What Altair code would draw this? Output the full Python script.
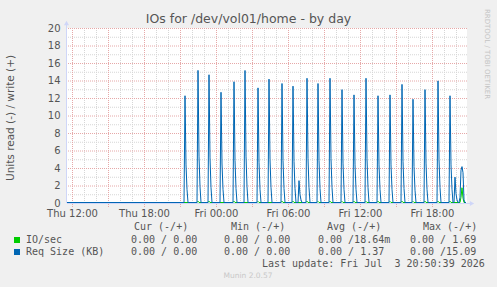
import altair as alt
import pandas as pd

# ---------------- data ----------------
START = "2026-07-02T11:35:00"

# Req Size (KB) write spikes: time of peak, peak, and the two following 5-min samples
spike_times = [
    "2026-07-02T21:25", "2026-07-02T22:30", "2026-07-02T23:25", "2026-07-03T00:25",
    "2026-07-03T01:30", "2026-07-03T02:25", "2026-07-03T03:30", "2026-07-03T04:25",
    "2026-07-03T05:30", "2026-07-03T06:25", "2026-07-03T06:55", "2026-07-03T07:35",
    "2026-07-03T08:30", "2026-07-03T09:30", "2026-07-03T10:30", "2026-07-03T11:30",
    "2026-07-03T12:30", "2026-07-03T13:30", "2026-07-03T14:30", "2026-07-03T15:30",
    "2026-07-03T16:25", "2026-07-03T17:25", "2026-07-03T18:30", "2026-07-03T19:30",
    "2026-07-03T19:55",
]
spike_peak = [12.2, 15.1, 14.6, 12.6, 13.8, 15.09, 13.1, 14.1, 13.6, 13.3, 2.5, 14.2,
              13.6, 14.2, 12.9, 12.3, 14.2, 12.2, 12.3, 13.5, 11.8, 12.9, 13.9, 12.2, 2.9]
spike_tail1 = [4.3, 5.3, 5.1, 4.4, 4.8, 5.3, 4.6, 4.9, 4.8, 4.7, 0.9, 5.0,
               4.8, 5.0, 4.5, 4.3, 5.0, 4.3, 4.3, 4.7, 4.1, 4.5, 4.9, 4.3, 1.0]
spike_tail2 = [1.5, 1.8, 1.7, 1.5, 1.6, 1.8, 1.5, 1.7, 1.6, 1.6, 0.3, 1.7,
               1.6, 1.7, 1.5, 1.5, 1.7, 1.5, 1.5, 1.6, 1.4, 1.5, 1.7, 1.5, 0.3]

# final rounded bump (Req Size) and IO/sec bump
bump_times = ["2026-07-03T20:15", "2026-07-03T20:20", "2026-07-03T20:25", "2026-07-03T20:30",
              "2026-07-03T20:35", "2026-07-03T20:40", "2026-07-03T20:45"]
bump_req = [0.0, 0.6, 3.7, 4.1, 3.4, 0.3, 0.0]
bump_io = [0.0, 0.0, 0.6, 1.69, 0.5, 0.0, 0.0]

# IO/sec small blips at the spike times
io_times = [
    "2026-07-02T22:30", "2026-07-02T23:25", "2026-07-03T01:30", "2026-07-03T03:30",
    "2026-07-03T05:30", "2026-07-03T06:25", "2026-07-03T07:35", "2026-07-03T08:30",
    "2026-07-03T09:30", "2026-07-03T10:30", "2026-07-03T11:30", "2026-07-03T12:30",
    "2026-07-03T13:30", "2026-07-03T14:30", "2026-07-03T15:30", "2026-07-03T16:25",
    "2026-07-03T17:25", "2026-07-03T18:30", "2026-07-03T19:30",
]
io_vals = [0.15, 0.15, 0.15, 0.12, 0.15, 0.15, 0.15, 0.12, 0.15, 0.12, 0.15, 0.12,
           0.15, 0.12, 0.15, 0.12, 0.15, 0.15, 0.15]

y_ticks = [0, 2, 4, 6, 8, 10, 12, 14, 16, 18, 20]

# ---------------- build tables ----------------
FIVE = pd.Timedelta(minutes=5)
fmt = "%Y-%m-%dT%H:%M:%S"

rows = [(pd.Timestamp(START), 0.0)]
for t, p, a, b in zip(spike_times, spike_peak, spike_tail1, spike_tail2):
    t0 = pd.Timestamp(t)
    rows += [(t0 - FIVE, 0.0), (t0, p), (t0 + FIVE, a), (t0 + 2 * FIVE, b), (t0 + 3 * FIVE, 0.0)]
rows += [(pd.Timestamp(t), v) for t, v in zip(bump_times, bump_req)]
rows += [(pd.Timestamp("2026-07-03T20:50"), 0.0)]
req = pd.DataFrame(rows, columns=["t", "v"]).sort_values("t")
req["t"] = req["t"].dt.strftime(fmt)

rows = [(pd.Timestamp(START), 0.0)]
for t, v in zip(io_times, io_vals):
    t0 = pd.Timestamp(t)
    rows += [(t0 - FIVE, 0.0), (t0, v), (t0 + FIVE, 0.0)]
rows += [(pd.Timestamp(t), v) for t, v in zip(bump_times, bump_io)]
rows += [(pd.Timestamp("2026-07-03T20:50"), 0.0)]
io = pd.DataFrame(rows, columns=["t", "v"]).sort_values("t")
io["t"] = io["t"].dt.strftime(fmt)

hours = pd.date_range("2026-07-02T12:00", "2026-07-03T20:00", freq="h")
vgrid_minor = pd.DataFrame({"t": hours[hours.hour % 3 != 0].strftime(fmt)})
vgrid_major = pd.DataFrame({"t": hours[hours.hour % 3 == 0].strftime(fmt)})
hgrid_minor = pd.DataFrame({"v": [1, 3, 5, 7, 9, 11, 13, 15, 17, 19]})
hgrid_major = pd.DataFrame({"v": [2, 4, 6, 8, 10, 12, 14, 16, 18, 20]})

# ---------------- chart ----------------
W, H = 400, 175
OX, OY = 67, 28
FONT = "DejaVu Sans"
MONO = "DejaVu Sans Mono"
TXT = "#555555"
BLUE = "#0066B3"
GREEN = "#00CC00"
AXISC = "#CFD6F8"
MINORC = "#D6D6D6"
MAJORC = "#E6A8A8"

xdom = [alt.DateTime(year=2026, month=7, date=2, hours=11, minutes=35),
        alt.DateTime(year=2026, month=7, date=3, hours=20, minutes=55)]
xvals = [alt.DateTime(year=2026, month=7, date=2, hours=12),
         alt.DateTime(year=2026, month=7, date=2, hours=18),
         alt.DateTime(year=2026, month=7, date=3, hours=0),
         alt.DateTime(year=2026, month=7, date=3, hours=6),
         alt.DateTime(year=2026, month=7, date=3, hours=12),
         alt.DateTime(year=2026, month=7, date=3, hours=18)]

xscale = alt.Scale(domain=xdom)
yscale = alt.Scale(domain=[0, 20])

xaxis = alt.Axis(values=xvals, format="%a %H:%M", title=None, ticks=False,
                 domain=False, grid=False, labelFont=FONT, labelFontSize=10,
                 labelColor=TXT, labelPadding=5, labelFlush=False, labelOverlap=False)
yaxis = alt.Axis(values=y_ticks, title=None, ticks=False,
                 domain=False, grid=False, labelFont=FONT, labelFontSize=10,
                 labelColor=TXT, labelPadding=7, labelOverlap=False, labelFlush=False)
X = alt.X("t:T", scale=xscale, axis=xaxis)
Y = alt.Y("v:Q", scale=yscale, axis=yaxis)

minor_v = alt.Chart(vgrid_minor).mark_rule(
    color=MINORC, strokeDash=[1, 1], strokeWidth=1, xOffset=0.5).encode(x=X)
major_v = alt.Chart(vgrid_major).mark_rule(
    color=MAJORC, strokeDash=[1, 1], strokeWidth=1, xOffset=0.5).encode(
    x=X, y=alt.value(0), y2=alt.value(H + 4))
minor_h = alt.Chart(hgrid_minor).mark_rule(
    color=MINORC, strokeDash=[1, 1], strokeWidth=1, yOffset=0.5).encode(y=Y)
major_h = alt.Chart(hgrid_major).mark_rule(
    color=MAJORC, strokeDash=[1, 1], strokeWidth=1, yOffset=0.5).encode(y=Y)

io_line = alt.Chart(io).mark_line(color=GREEN, strokeWidth=1, yOffset=-0.5).encode(x=X, y=Y)
req_line = alt.Chart(req).mark_line(color=BLUE, strokeWidth=1, yOffset=-0.5).encode(x=X, y=Y)

one = pd.DataFrame({"k": [0]})

axis_y = alt.Chart(one).mark_rule(color=AXISC, strokeWidth=1).encode(
    x=alt.value(-0.5), y=alt.value(-5), y2=alt.value(H))
axis_x = alt.Chart(one).mark_rule(color=AXISC, strokeWidth=1).encode(
    x=alt.value(0), x2=alt.value(W + 4), y=alt.value(H + 0.5))
arrow_up = alt.Chart(one).mark_point(shape="triangle-up", filled=True, color=AXISC,
                                     size=25, opacity=1).encode(
    x=alt.value(-0.5), y=alt.value(-5))
arrow_right = alt.Chart(one).mark_point(shape="triangle-right", filled=True, color=AXISC,
                                        size=25, opacity=1).encode(
    x=alt.value(W + 5), y=alt.value(H + 0.5))


def text(s, x, y, size=10, font=MONO, color=TXT, align="left", angle=0, baseline="middle"):
    return alt.Chart(one).mark_text(
        text=s.replace(" ", "\u00a0"), font=font, fontSize=size, color=color,
        align=align, baseline=baseline, angle=angle).encode(
        x=alt.value(x - OX), y=alt.value(y - OY))


texts = [
    text("IOs for /dev/vol01/home - by day", 248.5, 23, size=12.5, font=FONT,
         align="center", baseline="alphabetic"),
    text("Units read (-) / write (+)", 10.5, 118, size=10.5, font=FONT,
         align="center", angle=270),
    text("RRDTOOL / TOBI OETIKER", 487, 54, size=7, font=FONT, color="#C4C4C4",
         align="center", angle=90),
    text("Cur (-/+)", 134, 227), text("Min (-/+)", 231, 227),
    text("Avg (-/+)", 327, 227), text("Max (-/+)", 423, 227),
    text("IO/sec", 26, 240), text("Req Size (KB)", 26, 252),
    text("0.00 / 0.00", 131, 240), text("0.00 / 0.00", 224, 240),
    text("0.00 /18.64m", 318, 240), text("0.00 / 1.69", 410, 240),
    text("0.00 / 0.00", 131, 252), text("0.00 / 0.00", 224, 252),
    text("0.00 / 1.37", 318, 252), text("0.00 /15.09", 410, 252),
    text("Last update: Fri Jul  3 20:50:39 2026", 262, 264),
    text("Munin 2.0.57", 248, 276, size=7.5, font=FONT, color="#C8C8C8", align="center"),
]

sq_green = alt.Chart(one).mark_square(color=GREEN, size=36, opacity=1).encode(
    x=alt.value(17 - OX), y=alt.value(240 - OY))
sq_blue = alt.Chart(one).mark_square(color=BLUE, size=36, opacity=1).encode(
    x=alt.value(17 - OX), y=alt.value(252 - OY))

chart = alt.layer(
    minor_v, minor_h, major_v, major_h, axis_y, axis_x, arrow_up, arrow_right,
    io_line, req_line, sq_green, sq_blue, *texts
).properties(
    width=W, height=H,
    autosize=alt.AutoSizeParams(type="none"),
    padding={"left": OX, "top": OY, "right": 497 - OX - W, "bottom": 287 - OY - H},
    background="#F0F0F0",
).configure_view(fill="white", stroke=None)

chart.save("out.html", embed_options={"renderer": "svg", "actions": False})
